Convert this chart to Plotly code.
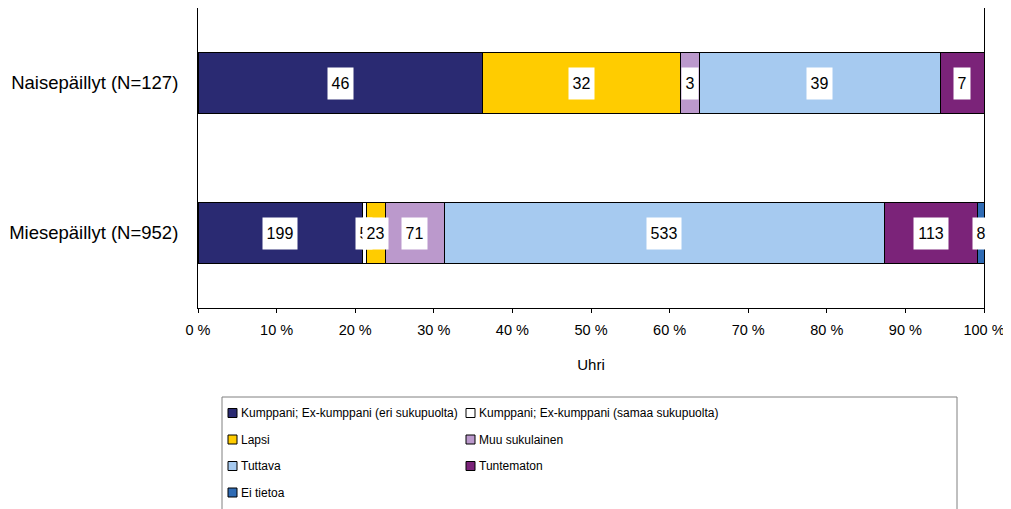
import plotly.graph_objects as go
import numpy as np

# Data
groups = ['Naisepäillyt (N=127)', 'Miesepäillyt (N=952)']
categories = ['Kumppani; Ex-kumppani (eri sukupuolta)',
              'Kumppani; Ex-kumppani (samaa sukupuolta)',
              'Lapsi', 'Muu sukulainen', 'Tuttava', 'Tuntematon', 'Ei tietoa']
naise = [46, 0, 32, 3, 39, 7, 0]
miese = [199, 5, 23, 71, 533, 113, 8]
colors = ['#2A2A72', '#FFFFFF', '#FFCC00', '#BB99CC', '#A6CAF0', '#7B2379', '#2F6BB4']
tick_vals = [0, 10, 20, 30, 40, 50, 60, 70, 80, 90, 100]
tick_text = ['0 %', '10 %', '20 %', '30 %', '40 %', '50 %', '60 %', '70 %', '80 %', '90 %', '100 %']

# page has an 8px body margin, figure sits at (8, 8)
OFF = 8
W, H = 1003, 501
L, R, T, B = 190, 27, 0, 201
pw, ph = W - L - R, H - T - B

def px(x):  # page pixel -> paper x
    return (x - OFF - L) / pw

def py(y):  # page pixel -> paper y
    return (OFF + T + ph - y) / ph

FONT = 'Liberation Sans, Arial'
counts = np.array([naise, miese])
fig = go.Figure()
for i, cat in enumerate(categories):
    fig.add_trace(go.Bar(
        y=groups, x=counts[:, i], name=cat, orientation='h',
        marker=dict(color=colors[i], line=dict(color='black', width=1)),
        showlegend=False, hoverinfo='x+name'
    ))

# value labels in white boxes
ann = []
for g, row in zip(groups, counts):
    pct = row / row.sum() * 100
    mid = np.cumsum(pct) - pct / 2
    for v, xm in zip(row, mid):
        if v == 0:
            continue
        ann.append(dict(x=xm, y=g, xref='x', yref='y', text=str(v), showarrow=False,
                        bgcolor='white', borderpad=0, width=9 * len(str(v)) + 7, height=31,
                        font=dict(size=16, color='black', family=FONT)))

# legend drawn by hand, two columns
shapes = [dict(type='rect', xref='paper', yref='paper', x0=px(222), x1=px(957),
               y0=py(530), y1=py(397), line=dict(color='#808080', width=1),
               fillcolor='rgba(0,0,0,0)')]
col_x = [228, 466]
for k, cat in enumerate(categories):
    cx = col_x[k % 2]
    cy = 413 + 26.5 * (k // 2)
    shapes.append(dict(type='rect', xref='paper', yref='paper',
                       x0=px(cx), x1=px(cx + 9), y0=py(cy + 4.5), y1=py(cy - 4.5),
                       fillcolor=colors[k], line=dict(color='black', width=1)))
    ann.append(dict(x=px(cx + 11), y=py(cy), xref='paper', yref='paper', text=cat,
                    showarrow=False, xanchor='left', yanchor='middle',
                    font=dict(size=12, color='black', family=FONT)))

fig.update_layout(
    barmode='stack', barnorm='percent', bargap=0.595,
    width=W, height=H, margin=dict(l=L, r=R, t=T, b=B),
    paper_bgcolor='white', plot_bgcolor='white',
    font=dict(family=FONT, size=15, color='black'),
    xaxis=dict(range=[0, 100], tickvals=tick_vals, ticktext=tick_text,
               ticks='outside', ticklen=4, tickcolor='black', ticklabelstandoff=5,
               ticklabeloverflow='allow', tickfont=dict(size=14.5), showgrid=False,
               showline=True, linecolor='black', linewidth=1, mirror=True,
               zeroline=False, title=dict(text='Uhri', standoff=22, font=dict(size=15))),
    yaxis=dict(autorange='reversed', showline=True, linecolor='black', linewidth=1,
               mirror=True, showgrid=False, ticks='', ticklabelstandoff=15,
               tickfont=dict(size=18.5)),
    annotations=ann, shapes=shapes,
)

fig.write_html('out.html')
